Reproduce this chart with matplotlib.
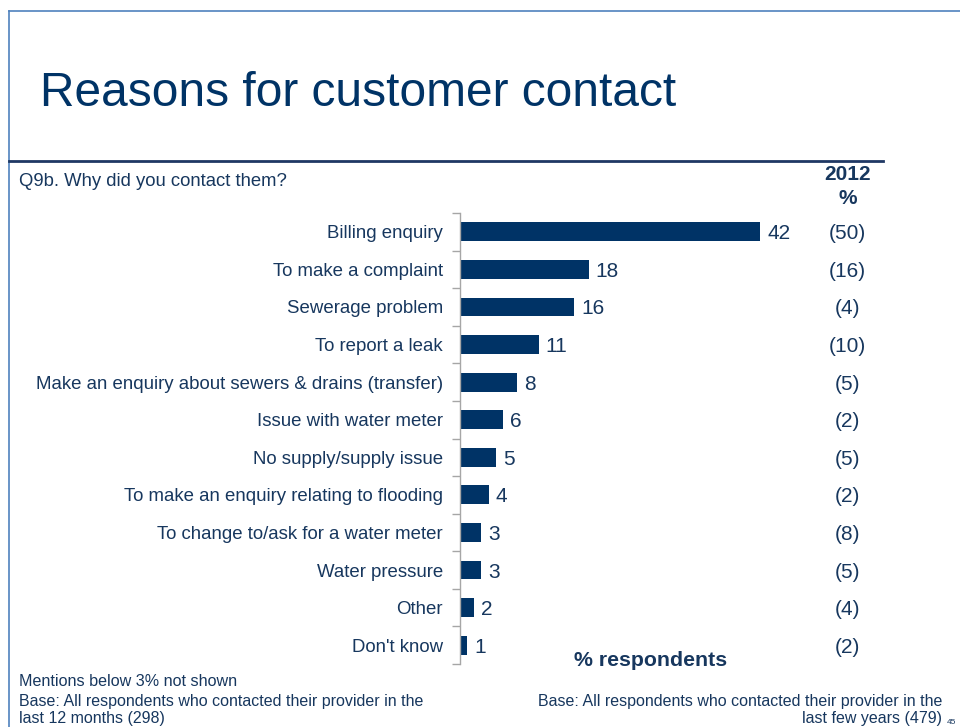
import matplotlib
matplotlib.use("Agg")
import matplotlib.pyplot as plt
from matplotlib.lines import Line2D
from matplotlib.transforms import blended_transform_factory

plt.rcParams["font.family"] = ["Liberation Sans", "DejaVu Sans"]

# survey answers, current wave and 2012 comparison
reasons = [
    "Billing enquiry",
    "To make a complaint",
    "Sewerage problem",
    "To report a leak",
    "Make an enquiry about sewers & drains (transfer)",
    "Issue with water meter",
    "No supply/supply issue",
    "To make an enquiry relating to flooding",
    "To change to/ask for a water meter",
    "Water pressure",
    "Other",
    "Don't know",
]
pct_now = [42, 18, 16, 11, 8, 6, 5, 4, 3, 3, 2, 1]
pct_2012 = [50, 16, 4, 10, 5, 2, 5, 2, 8, 5, 4, 2]

NAVY = "#003366"
TEXT = "#17375E"
FRAME = "#4F81BD"

W, H = 960, 727
fig = plt.figure(figsize=(W / 100, H / 100), dpi=100)


def fx(x):
    return x / W


def fy(y):
    return 1 - y / H


# slide frame: light blue top/left border, dark rule under the title
fig.add_artist(Line2D([fx(9), fx(960)], [fy(11), fy(11)], color=FRAME, lw=1.2))
fig.add_artist(Line2D([fx(9), fx(9)], [fy(11), fy(727)], color=FRAME, lw=1.2))
fig.add_artist(Line2D([fx(9), fx(883)], [fy(161), fy(161)], color="#1F3864", lw=2))

fig.text(fx(40), fy(93), "Reasons for customer contact", fontsize=34.5,
         color=NAVY, va="center", ha="left")
fig.text(fx(19), fy(182), "Q9b. Why did you contact them?", fontsize=13.3,
         color=TEXT, va="center", ha="left")
fig.text(fx(848), fy(174), "2012", fontsize=15, fontweight="bold",
         color=TEXT, va="center", ha="center")
fig.text(fx(848), fy(198), "%", fontsize=15, fontweight="bold",
         color=TEXT, va="center", ha="center")

# bar chart: 0..42 spans x 460..760 px, rows spaced over y 213..664 px
x0, y_top, y_bot = 460, 213, 664
xmax = 50
ax_w = 300 / 42 * xmax
ax = fig.add_axes([fx(x0), fy(y_bot), ax_w / W, (y_bot - y_top) / H])
pos = list(range(len(reasons)))
ax.barh(pos, pct_now, height=0.5, color=NAVY)
ax.set_xlim(0, xmax)
ax.set_ylim(len(reasons) - 0.5, -0.5)
for s in ["top", "right", "bottom"]:
    ax.spines[s].set_visible(False)
ax.spines["left"].set_color("#A6A6A6")
ax.spines["left"].set_linewidth(1)
ax.set_xticks([])
ax.set_yticks([p - 0.5 for p in pos] + [len(reasons) - 0.5])
ax.set_yticklabels([])
ax.tick_params(axis="y", length=6, color="#A6A6A6", width=1)

col_tr = blended_transform_factory(fig.transFigure, ax.transData)
for p, name, v, old in zip(pos, reasons, pct_now, pct_2012):
    ax.text(-2.4, p, name, ha="right", va="center_baseline", fontsize=13.4,
            color=TEXT)
    ax.text(v + 1.0, p, str(v), ha="left", va="center_baseline", fontsize=15,
            color=TEXT)
    ax.text(fx(847), p, f"({old})", ha="center", va="center_baseline",
            fontsize=15, color=TEXT, transform=col_tr)
for t in ax.texts:
    t.set_clip_on(False)

fig.text(fx(651), fy(661), "% respondents", fontsize=15.3, fontweight="bold",
         color=TEXT, ha="center", va="center")

fig.text(fx(19), fy(681), "Mentions below 3% not shown", fontsize=11.6,
         color=TEXT, ha="left", va="center")
fig.text(fx(19), fy(710),
         "Base: All respondents who contacted their provider in the\nlast 12 months (298)",
         fontsize=11.5, color=TEXT, ha="left", va="center", linespacing=1.15)
fig.text(fx(942), fy(710),
         "Base: All respondents who contacted their provider in the\nlast few years (479)",
         fontsize=11.5, color=TEXT, ha="right", va="center", multialignment="right",
         linespacing=1.15)
fig.text(fx(947), fy(723), "45", fontsize=6, color=TEXT, ha="left", va="center")

fig.savefig("out.png", dpi=100)
